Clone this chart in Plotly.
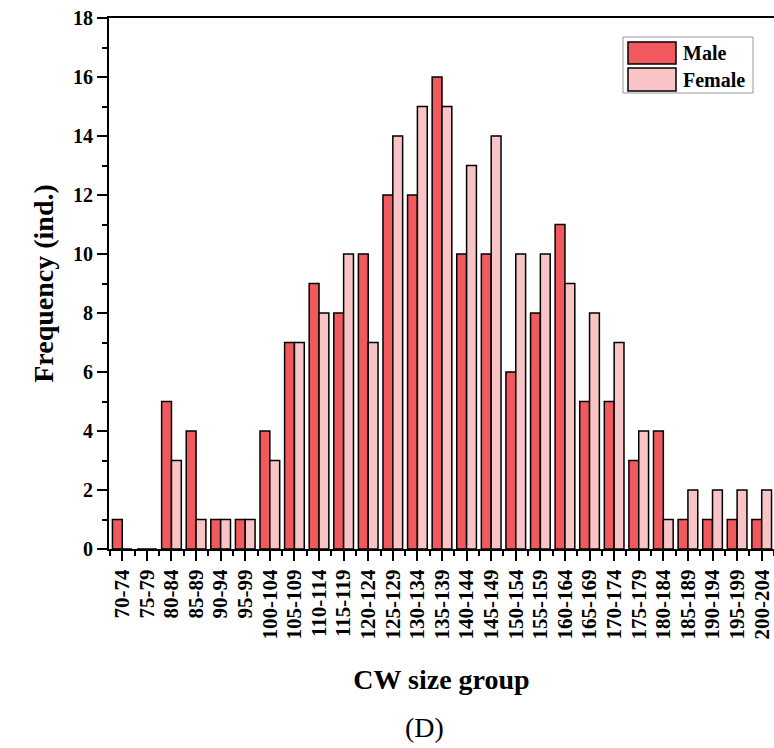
import plotly.graph_objects as go

categories = ["70-74", "75-79", "80-84", "85-89", "90-94", "95-99", "100-104", "105-109",
              "110-114", "115-119", "120-124", "125-129", "130-134", "135-139", "140-144",
              "145-149", "150-154", "155-159", "160-164", "165-169", "170-174", "175-179",
              "180-184", "185-189", "190-194", "195-199", "200-204"]
male = [1, 0, 5, 4, 1, 1, 4, 7, 9, 8, 10, 12, 12, 16, 10, 10, 6, 8, 11, 5, 5, 3, 4, 1, 1, 1, 1]
female = [0, 0, 3, 1, 1, 1, 3, 7, 8, 10, 7, 14, 15, 15, 13, 14, 10, 10, 9, 8, 7, 4, 1, 2, 2, 2, 2]
y_ticks = [0, 2, 4, 6, 8, 10, 12, 14, 16, 18]

W, H = 774, 748
ML, MR, MT, MB = 109, 0, 18, 199
FONT = "Liberation Serif"
MALE_C = "#F0595E"
FEMALE_C = "#F8C4C6"

idx = list(range(len(categories)))

fig = go.Figure()
fig.add_bar(x=idx, y=male, name="Male",
            marker=dict(color=MALE_C, line=dict(color="black", width=1.5)))
fig.add_bar(x=idx, y=female, name="Female",
            marker=dict(color=FEMALE_C, line=dict(color="black", width=1.5)))

def px2paper(px, py):
    return (px - ML) / (W - ML - MR), (H - MB - py) / (H - MT - MB)

# legend drawn manually (large swatches like the original)
x0, y0 = px2paper(623, 37)
x1, y1 = px2paper(753, 93)
shapes = [dict(type="rect", xref="paper", yref="paper", x0=x0, y0=y0, x1=x1, y1=y1,
               line=dict(color="#9a9a9a", width=1), fillcolor="white", layer="above")]
annotations = []
for (name, col, top, bot) in [("Male", MALE_C, 42, 64), ("Female", FEMALE_C, 68, 91)]:
    sx0, sy0 = px2paper(628, top)
    sx1, sy1 = px2paper(676, bot)
    shapes.append(dict(type="rect", xref="paper", yref="paper", x0=sx0, y0=sy0, x1=sx1, y1=sy1,
                       line=dict(color="black", width=1.5), fillcolor=col, layer="above"))
    tx, ty = px2paper(681, (top + bot) / 2)
    annotations.append(dict(text=name, xref="paper", yref="paper", x=tx, y=ty,
                            xanchor="left", yanchor="middle", showarrow=False,
                            font=dict(family=FONT, size=20, color="black", weight="bold")))

dx, dy = px2paper(424, 727)
annotations.append(dict(text="(D)", xref="paper", yref="paper", x=dx, y=dy,
                        xanchor="center", yanchor="middle", showarrow=False,
                        font=dict(family=FONT, size=28, color="black")))

fig.update_layout(
    width=W, height=H,
    margin=dict(l=ML, r=MR, t=MT, b=MB, autoexpand=False),
    paper_bgcolor="white", plot_bgcolor="white",
    barmode="group", bargap=0.2, bargroupgap=0,
    showlegend=False,
    shapes=shapes, annotations=annotations,
    font=dict(family=FONT, color="black"),
)
fig.update_xaxes(
    range=[-0.54, 26.5],
    tickmode="array", tickvals=idx, ticktext=categories, tickangle=-90,
    tickfont=dict(family=FONT, size=21, color="black", weight="bold"),
    ticklabeloverflow="allow",
    ticks="outside", ticklen=10, tickwidth=1.5, tickcolor="black",
    minor=dict(tickmode="array", tickvals=[i + 0.5 for i in idx] + [-0.5],
               ticks="outside", ticklen=5, tickwidth=1.5, tickcolor="black"),
    showline=True, linecolor="black", linewidth=2, mirror=True,
    showgrid=False, zeroline=False, automargin=False,
    title=dict(text="CW size group", standoff=31,
               font=dict(family=FONT, size=28, color="black", weight="bold")),
)
fig.update_yaxes(
    range=[0, 18], tickmode="array", tickvals=y_ticks,
    tickfont=dict(family=FONT, size=20, color="black", weight="bold"),
    ticks="outside", ticklen=10, tickwidth=1.5, tickcolor="black",
    minor=dict(dtick=1, ticks="outside", ticklen=5, tickwidth=1.5, tickcolor="black"),
    showline=True, linecolor="black", linewidth=2, mirror=False,
    showgrid=False, zeroline=False, automargin=False,
    title=dict(text="Frequency (ind.)", standoff=11,
               font=dict(family=FONT, size=28, color="black", weight="bold")),
)

fig.write_html("out.html")
